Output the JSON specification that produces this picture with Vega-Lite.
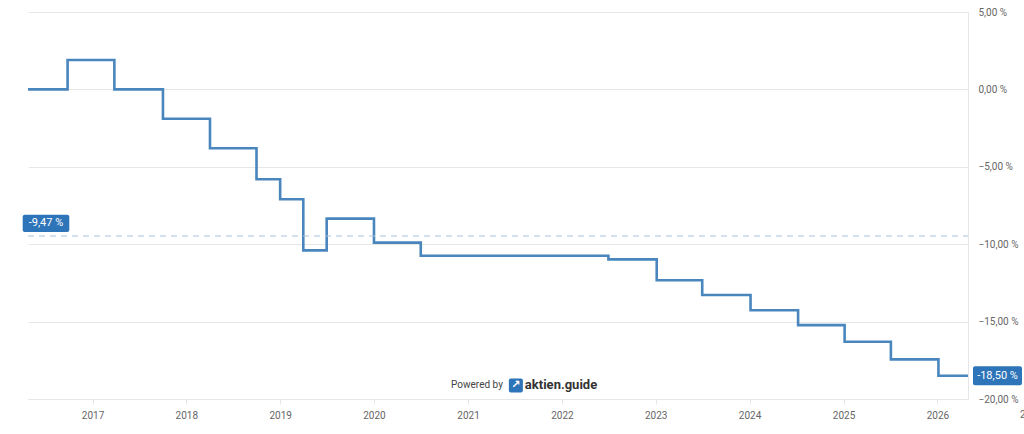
{
  "$schema": "https://vega.github.io/schema/vega-lite/v6.json",
  "width": 940,
  "height": 387,
  "autosize": {"type": "none"},
  "padding": {"left": 28, "top": 12, "right": 56, "bottom": 35},
  "background": "#ffffff",
  "config": {
    "view": {"stroke": null},
    "font": "Roboto",
    "axis": {"labelFont": "Roboto", "labelColor": "#666666", "labelFontSize": 10}
  },
  "datasets": {
    "series": [
      {"date": "2016-04-25", "value": 0},
      {"date": "2016-09-26", "value": 1.9},
      {"date": "2017-03-27", "value": 0},
      {"date": "2017-10-02", "value": -1.9},
      {"date": "2018-04-03", "value": -3.8},
      {"date": "2018-10-01", "value": -5.8},
      {"date": "2019-01-01", "value": -7.1},
      {"date": "2019-04-01", "value": -10.4},
      {"date": "2019-07-01", "value": -8.35},
      {"date": "2020-01-01", "value": -9.9},
      {"date": "2020-07-01", "value": -10.75},
      {"date": "2022-07-01", "value": -10.98},
      {"date": "2023-01-05", "value": -12.33},
      {"date": "2023-07-01", "value": -13.28},
      {"date": "2024-01-05", "value": -14.27},
      {"date": "2024-07-08", "value": -15.23},
      {"date": "2025-01-05", "value": -16.3},
      {"date": "2025-07-04", "value": -17.44},
      {"date": "2026-01-05", "value": -18.5},
      {"date": "2026-04-30", "value": -18.5}
    ],
    "average": [{"date": "2016-04-25", "date2": "2026-04-30", "value": -9.47, "label": "-9,47 %"}],
    "last": [{"date": "2026-04-30", "value": -18.5, "label": "-18,50 %"}],
    "brand": [{"date": "2021-07-06", "value": -19.12}],
    "extra": [{"date": "2027-01-01", "value": -20, "label": "2027"}]
  },
  "layer": [
    {
      "data": {"name": "series"},
      "mark": {"type": "line", "interpolate": "step-after", "color": "#4a86be", "strokeWidth": 2.6},
      "encoding": {
        "x": {
          "field": "date", "type": "temporal",
          "scale": {"type": "utc", "domain": [{"year": 2016, "month": 4, "date": 25, "utc": true}, {"year": 2026, "month": 4, "date": 30, "utc": true}]},
          "axis": {
            "title": null, "grid": false, "format": "%Y", "tickCount": {"interval": "year", "step": 1},
            "domainColor": "#e6e6e6", "tickColor": "#e6e6e6", "tickSize": 5, "labelPadding": 6
          }
        },
        "y": {
          "field": "value", "type": "quantitative",
          "scale": {"domain": [-20, 5], "nice": false, "zero": false},
          "axis": {
            "orient": "right", "title": null, "values": [5, 0, -5, -10, -15, -20],
            "labelExpr": "replace(format(datum.value, '.2f'), '.', ',') + ' %'",
            "grid": true, "gridColor": "#e6e6e6", "ticks": false, "labelPadding": 10,
            "domainColor": "#e6e6e6"
          }
        }
      }
    },
    {
      "data": {"name": "average"},
      "mark": {"type": "rule", "color": "#a8c1da", "strokeWidth": 1, "strokeDash": [6, 5]},
      "encoding": {
        "x": {"field": "date", "type": "temporal"},
        "x2": {"field": "date2"},
        "y": {"field": "value", "type": "quantitative"}
      }
    },
    {
      "data": {"name": "average"},
      "mark": {"type": "rect", "color": "#2e74b8", "cornerRadius": 2, "xOffset": -5.3, "x2Offset": 41.3, "yOffset": -21.3, "y2Offset": -4},
      "encoding": {
        "x": {"field": "date", "type": "temporal"},
        "x2": {"field": "date"},
        "y": {"field": "value", "type": "quantitative"},
        "y2": {"field": "value"}
      }
    },
    {
      "data": {"name": "average"},
      "mark": {"type": "text", "color": "#ffffff", "fontSize": 11, "align": "center", "baseline": "middle", "dx": 18, "dy": -12.6},
      "encoding": {
        "x": {"field": "date", "type": "temporal"},
        "y": {"field": "value", "type": "quantitative"},
        "text": {"field": "label"}
      }
    },
    {
      "data": {"name": "last"},
      "mark": {"type": "rect", "color": "#2e74b8", "cornerRadius": 2, "xOffset": 5, "x2Offset": 54, "yOffset": -9.5, "y2Offset": 9.5},
      "encoding": {
        "x": {"field": "date", "type": "temporal"},
        "x2": {"field": "date"},
        "y": {"field": "value", "type": "quantitative"},
        "y2": {"field": "value"}
      }
    },
    {
      "data": {"name": "last"},
      "mark": {"type": "text", "color": "#ffffff", "fontSize": 11, "align": "center", "baseline": "middle", "dx": 29.5, "dy": 0.5},
      "encoding": {
        "x": {"field": "date", "type": "temporal"},
        "y": {"field": "value", "type": "quantitative"},
        "text": {"field": "label"}
      }
    },
    {
      "data": {"name": "brand"},
      "mark": {"type": "text", "text": "Powered by", "color": "#444444", "fontSize": 10, "align": "right", "baseline": "middle", "dx": -13},
      "encoding": {
        "x": {"field": "date", "type": "temporal"},
        "y": {"field": "value", "type": "quantitative"}
      }
    },
    {
      "data": {"name": "brand"},
      "mark": {"type": "rect", "color": "#2e74b8", "cornerRadius": 2, "xOffset": -7, "x2Offset": 7, "yOffset": -7, "y2Offset": 7},
      "encoding": {
        "x": {"field": "date", "type": "temporal"},
        "x2": {"field": "date"},
        "y": {"field": "value", "type": "quantitative"},
        "y2": {"field": "value"}
      }
    },
    {
      "data": {"name": "brand"},
      "mark": {"type": "text", "text": "↗", "font": "DejaVu Sans", "color": "#ffffff", "fontSize": 11, "fontWeight": "bold", "align": "center", "baseline": "middle"},
      "encoding": {
        "x": {"field": "date", "type": "temporal"},
        "y": {"field": "value", "type": "quantitative"}
      }
    },
    {
      "data": {"name": "brand"},
      "mark": {"type": "text", "text": "aktien.guide", "color": "#333333", "fontSize": 13, "fontWeight": "bold", "align": "left", "baseline": "middle", "dx": 9},
      "encoding": {
        "x": {"field": "date", "type": "temporal"},
        "y": {"field": "value", "type": "quantitative"}
      }
    },
    {
      "data": {"name": "extra"},
      "mark": {"type": "text", "color": "#666666", "fontSize": 10, "align": "center", "baseline": "top", "dy": 11},
      "encoding": {
        "x": {"field": "date", "type": "temporal"},
        "y": {"field": "value", "type": "quantitative"},
        "text": {"field": "label"}
      }
    }
  ]
}
